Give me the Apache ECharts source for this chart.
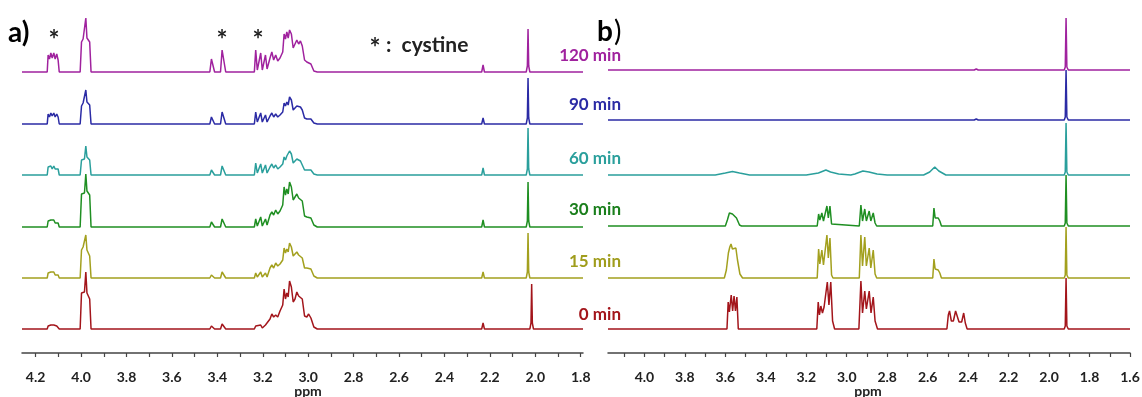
<!DOCTYPE html>
<html>
<head>
<meta charset="utf-8">
<script src="https://cdn.jsdelivr.net/npm/echarts@6/dist/echarts.min.js"></script>
<style>
    html, body { margin: 0; padding: 0; background: #fff; }
    #chart { width: 1142px; height: 397px; }
</style>
</head>
<body>
<div id="chart"></div>
<script>
// trace names, top to bottom
const timeLabels = ['120 min', '90 min', '60 min', '30 min', '15 min', '0 min'];

// axis tick labels (ppm)
const ticksA = [4.2, 4.0, 3.8, 3.6, 3.4, 3.2, 3.0, 2.8, 2.6, 2.4, 2.2, 2.0, 1.8];
const ticksB = [4.0, 3.8, 3.6, 3.4, 3.2, 3.0, 2.8, 2.6, 2.4, 2.2, 2.0, 1.8, 1.6];
const minorA = [4.2, 4.1, 4.0, 3.9, 3.8, 3.7, 3.6, 3.5, 3.4, 3.3, 3.2, 3.1, 3.0, 2.9, 2.8, 2.7, 2.6, 2.5, 2.4, 2.3, 2.2, 2.1, 2.0, 1.9, 1.8];
const minorB = [4.1, 4.0, 3.9, 3.8, 3.7, 3.6, 3.5, 3.4, 3.3, 3.2, 3.1, 3.0, 2.9, 2.8, 2.7, 2.6, 2.5, 2.4, 2.3, 2.2, 2.1, 2.0, 1.9, 1.8, 1.7, 1.6];

// panel a spectra: [ppm, intensity]
const specA120 = [
    [4.26, 0], [4.149, 0], [4.145, 17], [4.139, 13], [4.133, 19], [4.127, 14], [4.12, 19], [4.114, 13], [4.107, 18], [4.101, 12], [4.096, 0],
    [4.004, 0], [3.998, 30], [3.991, 33], [3.985, 31], [3.979, 54], [3.974, 34], [3.968, 36], [3.962, 30], [3.956, 0],
    [3.433, 0], [3.426, 13], [3.419, 11], [3.412, 0],
    [3.386, 0], [3.379, 22], [3.371, 20], [3.363, 0],
    [3.237, 0], [3.231, 22], [3.224, 2], [3.209, 19], [3.202, 2], [3.188, 17], [3.181, 3], [3.168, 14], [3.16, 20], [3.152, 12], [3.143, 17], [3.134, 11], [3.124, 14],
    [3.112, 20], [3.106, 38], [3.1, 33], [3.094, 40], [3.088, 34], [3.082, 42], [3.074, 38], [3.066, 24], [3.058, 26], [3.05, 32], [3.042, 28], [3.034, 31], [3.026, 26],
    [3.016, 12], [3.006, 10], [2.998, 11], [2.988, 8], [2.975, 1], [2.96, 0],
    [2.236, 0], [2.23, 7], [2.224, 0],
    [2.04, 0], [2.035, 6], [2.032, 43], [2.029, 6], [2.024, 0],
    [1.79, 0]
];
const specA90 = [
    [4.26, 0], [4.149, 0], [4.145, 10], [4.139, 7], [4.133, 11], [4.127, 8], [4.12, 11], [4.114, 7], [4.107, 10], [4.101, 7], [4.096, 0],
    [4.004, 0], [3.998, 18], [3.991, 21], [3.985, 20], [3.979, 34], [3.974, 22], [3.968, 24], [3.962, 19], [3.956, 0],
    [3.433, 0], [3.426, 7], [3.419, 6], [3.412, 0],
    [3.386, 0], [3.379, 12], [3.371, 11], [3.363, 0],
    [3.237, 0], [3.231, 12], [3.224, 2], [3.209, 11], [3.202, 2], [3.188, 9], [3.181, 2], [3.168, 8], [3.16, 11], [3.152, 7], [3.143, 10], [3.134, 7], [3.124, 9],
    [3.112, 12], [3.106, 21], [3.1, 18], [3.094, 22], [3.088, 19], [3.082, 27], [3.074, 24], [3.066, 14], [3.058, 15], [3.05, 18], [3.042, 16], [3.034, 17], [3.026, 14],
    [3.016, 6], [3.006, 5], [2.998, 7], [2.988, 5], [2.975, 1], [2.96, 0],
    [2.236, 0], [2.23, 6], [2.224, 0],
    [2.04, 0], [2.035, 6], [2.032, 46], [2.029, 6], [2.024, 0],
    [1.79, 0]
];
const specA60 = [
    [4.26, 0], [4.149, 0], [4.145, 8], [4.139, 6], [4.133, 9], [4.127, 6], [4.12, 9], [4.114, 6], [4.107, 8], [4.101, 6], [4.096, 0],
    [4.004, 0], [3.998, 15], [3.991, 17], [3.985, 16], [3.979, 29], [3.974, 18], [3.968, 19], [3.962, 15], [3.956, 0],
    [3.433, 0], [3.426, 5], [3.419, 4], [3.412, 0],
    [3.386, 0], [3.379, 9], [3.371, 8], [3.363, 0],
    [3.237, 0], [3.231, 12], [3.224, 2], [3.209, 11], [3.202, 2], [3.188, 10], [3.181, 2], [3.168, 8], [3.16, 11], [3.152, 7], [3.143, 10], [3.134, 6], [3.124, 8],
    [3.112, 11], [3.106, 18], [3.1, 15], [3.094, 19], [3.088, 17], [3.082, 24], [3.074, 21], [3.066, 12], [3.058, 13], [3.05, 16], [3.042, 14], [3.034, 14], [3.026, 12],
    [3.016, 5], [3.006, 5], [2.998, 7], [2.988, 5], [2.975, 1], [2.96, 0],
    [2.236, 0], [2.23, 7], [2.224, 0],
    [2.04, 0], [2.035, 6], [2.032, 47], [2.029, 6], [2.024, 0],
    [1.79, 0]
];
const specA30 = [
    [4.26, 0], [4.149, 0], [4.145, 6], [4.139, 4], [4.133, 7], [4.127, 5], [4.12, 7], [4.114, 4], [4.107, 6], [4.101, 4], [4.096, 0],
    [4.004, 0], [3.998, 33], [3.991, 35], [3.985, 34], [3.979, 53], [3.974, 36], [3.968, 37], [3.962, 32], [3.956, 0],
    [3.433, 0], [3.426, 5], [3.419, 4], [3.412, 0],
    [3.386, 0], [3.379, 8], [3.371, 7], [3.363, 0],
    [3.237, 0], [3.231, 8], [3.224, 1], [3.209, 10], [3.202, 1], [3.188, 8], [3.181, 2], [3.168, 12], [3.16, 15], [3.152, 12], [3.143, 17], [3.134, 13], [3.124, 16],
    [3.112, 22], [3.106, 40], [3.1, 32], [3.094, 38], [3.088, 33], [3.082, 45], [3.074, 40], [3.066, 27], [3.058, 28], [3.05, 33], [3.042, 29], [3.034, 30], [3.026, 26],
    [3.016, 11], [3.006, 10], [2.998, 12], [2.988, 9], [2.975, 2], [2.96, 0],
    [2.236, 0], [2.23, 7], [2.224, 0],
    [2.04, 0], [2.035, 6], [2.032, 45], [2.029, 6], [2.024, 0],
    [1.79, 0]
];
const specA15 = [
    [4.26, 0], [4.149, 0], [4.145, 5], [4.139, 3], [4.133, 6], [4.127, 4], [4.12, 6], [4.114, 3], [4.107, 5], [4.101, 3], [4.096, 0],
    [4.004, 0], [3.998, 28], [3.991, 31], [3.985, 30], [3.979, 43], [3.974, 28], [3.968, 26], [3.962, 22], [3.956, 0],
    [3.433, 0], [3.426, 3], [3.419, 3], [3.412, 0],
    [3.386, 0], [3.379, 6], [3.371, 5], [3.363, 0],
    [3.237, 0], [3.231, 5], [3.224, 1], [3.209, 6], [3.202, 1], [3.188, 5], [3.181, 1], [3.168, 10], [3.16, 13], [3.152, 10], [3.143, 15], [3.134, 12], [3.124, 14],
    [3.112, 18], [3.106, 30], [3.1, 25], [3.094, 29], [3.088, 26], [3.082, 35], [3.074, 31], [3.066, 22], [3.058, 22], [3.05, 26], [3.042, 23], [3.034, 23], [3.026, 20],
    [3.016, 10], [3.006, 10], [2.998, 12], [2.988, 9], [2.975, 2], [2.96, 0],
    [2.236, 0], [2.23, 6], [2.224, 0],
    [2.04, 0], [2.035, 6], [2.032, 45], [2.029, 6], [2.024, 0],
    [1.79, 0]
];
const specA0 = [
    [4.26, 0], [4.149, 0], [4.145, 3], [4.139, 2], [4.133, 4], [4.127, 3], [4.12, 4], [4.114, 2], [4.107, 3], [4.101, 2], [4.096, 0],
    [4.004, 0], [3.998, 36], [3.991, 38], [3.985, 37], [3.979, 57], [3.974, 36], [3.968, 35], [3.962, 30], [3.956, 0],
    [3.433, 0], [3.426, 3], [3.419, 2], [3.412, 0],
    [3.386, 0], [3.379, 5], [3.371, 4], [3.363, 0],
    [3.237, 0], [3.231, 3], [3.224, 1], [3.209, 4], [3.202, 1], [3.188, 4], [3.181, 2], [3.168, 10], [3.16, 15], [3.152, 12], [3.143, 14], [3.134, 12], [3.124, 18],
    [3.112, 24], [3.106, 40], [3.1, 30], [3.094, 36], [3.088, 32], [3.082, 48], [3.074, 42], [3.066, 27], [3.058, 30], [3.05, 37], [3.042, 33], [3.034, 35], [3.026, 30],
    [3.016, 13], [3.006, 12], [2.998, 15], [2.988, 11], [2.975, 2], [2.96, 0],
    [2.236, 0], [2.23, 6], [2.224, 0],
    [2.024, 0], [2.019, 6], [2.016, 45], [2.013, 6], [2.008, 0],
    [1.79, 0]
];

// panel b spectra: [ppm, intensity]
const specB120 = [
    [4.18, 0], [3.94, 0], [3.935, 1.5], [3.93, 0], [2.37, 0], [2.36, 1], [2.35, 0], [2.235, 0], [2.23, 1], [2.225, 0],
    [1.925, 0], [1.92, 3], [1.916, 52], [1.912, 3], [1.905, 0], [1.6, 0]
];
const specB90 = [
    [4.18, 0], [3.94, 0], [3.935, 1.5], [3.93, 0], [2.37, 0], [2.36, 1], [2.35, 0], [2.235, 0], [2.23, 1.5], [2.225, 0],
    [1.925, 0], [1.92, 3], [1.916, 50], [1.912, 3], [1.905, 0], [1.6, 0]
];
const specB60 = [
    [4.18, 0], [3.94, 0], [3.935, 2], [3.93, 0],
    [3.65, 0], [3.6, 2], [3.565, 3.5], [3.53, 2], [3.48, 0],
    [3.2, 0], [3.14, 2], [3.103, 5], [3.08, 3], [3.04, 1], [2.98, 0], [2.96, 1], [2.92, 4], [2.89, 3], [2.85, 1], [2.8, 0],
    [2.62, 0], [2.59, 3], [2.565, 8], [2.545, 4], [2.51, 0],
    [1.925, 0], [1.92, 3], [1.916, 52], [1.912, 3], [1.905, 0], [1.6, 0]
];
const specB30 = [
    [4.18, 0], [3.94, 0], [3.935, 2], [3.93, 0],
    [3.6, 0], [3.59, 6], [3.58, 13], [3.572, 15], [3.565, 12], [3.556, 14], [3.545, 8], [3.53, 1], [3.52, 0],
    [3.34, 0], [3.335, 1], [3.33, 0],
    [3.146, 0], [3.139, 12], [3.133, 6], [3.123, 13], [3.115, 5], [3.108, 6], [3.098, 20], [3.091, 8], [3.083, 20], [3.075, 2], [3.068, 0],
    [2.938, 0], [2.93, 21], [2.922, 5], [2.911, 17], [2.903, 5], [2.889, 15], [2.881, 5], [2.869, 13], [2.86, 3], [2.852, 0],
    [2.575, 0], [2.569, 18], [2.563, 8], [2.555, 7], [2.548, 8], [2.54, 5], [2.532, 0],
    [1.925, 0], [1.92, 3], [1.916, 51], [1.912, 3], [1.905, 0], [1.6, 0]
];
const specB15 = [
    [4.18, 0], [3.94, 0], [3.935, 2], [3.93, 0],
    [3.605, 0], [3.595, 8], [3.585, 25], [3.578, 31], [3.572, 34], [3.565, 29], [3.558, 31], [3.548, 30], [3.54, 18], [3.528, 4], [3.515, 0],
    [3.146, 0], [3.139, 29], [3.133, 14], [3.123, 28], [3.115, 13], [3.108, 14], [3.098, 43], [3.091, 20], [3.083, 40], [3.075, 3], [3.068, 0],
    [2.938, 0], [2.93, 43], [2.922, 12], [2.911, 41], [2.903, 12], [2.889, 30], [2.881, 10], [2.869, 28], [2.86, 4], [2.852, 0],
    [2.575, 0], [2.569, 19], [2.563, 9], [2.555, 8], [2.548, 8], [2.54, 5], [2.532, 0],
    [1.925, 0], [1.92, 3], [1.916, 51], [1.912, 3], [1.905, 0], [1.6, 0]
];
const specB0 = [
    [4.18, 0],
    [3.592, 0], [3.586, 27], [3.58, 17], [3.571, 34], [3.564, 18], [3.557, 33], [3.55, 18], [3.543, 32], [3.536, 0],
    [3.148, 0], [3.141, 27], [3.135, 14], [3.128, 23], [3.12, 16], [3.112, 22], [3.105, 20], [3.096, 47], [3.088, 24], [3.079, 47], [3.07, 8], [3.06, 0],
    [2.94, 0], [2.93, 48], [2.922, 16], [2.911, 38], [2.903, 20], [2.889, 38], [2.88, 16], [2.869, 32], [2.86, 8], [2.848, 0],
    [2.505, 0], [2.498, 14], [2.492, 18], [2.483, 8], [2.473, 8], [2.462, 18], [2.455, 17], [2.445, 7], [2.432, 7], [2.422, 16], [2.414, 6], [2.405, 0],
    [1.925, 0], [1.92, 3], [1.916, 51], [1.912, 3], [1.905, 0], [1.6, 0]
];

const specA = [specA120, specA90, specA60, specA30, specA15, specA0];
const specB = [specB120, specB90, specB60, specB30, specB15, specB0];

// layout / style
const COLORS = ['#a0229e', '#2b2ba5', '#2a9f9c', '#1f8f22', '#a3a01e', '#a3151b'];
const LABEL_COLORS = ['#a0229e', '#2b2ba5', '#2a9f9c', '#1a7f1c', '#a09d1c', '#a3151b'];
const BASE_A = [72, 124, 175, 227, 278, 329];
const BASE_B = [70, 120, 175, 226, 278, 329];
const LABEL_Y = [56, 105, 159, 210, 262, 315];
const AXIS_Y = 353;
const TRACE_H = 60;
const FONT = 'Lato, "Open Sans", sans-serif';

const panels = [
    { left: 22, width: 561, min: 1.79, max: 4.26, base: BASE_A, spec: specA, ticks: ticksA, minor: minorA, nameX: 308 },
    { left: 608, width: 522, min: 1.6, max: 4.18, base: BASE_B, spec: specB, ticks: ticksB, minor: minorB, nameX: 868 }
];

const grid = [], xAxis = [], yAxis = [], series = [];

panels.forEach(p => {
    // one grid per trace
    p.spec.forEach((data, i) => {
        const idx = grid.length;
        grid.push({ left: p.left, width: p.width, top: p.base[i] - TRACE_H, height: TRACE_H, outerBoundsMode: 'none' });
        xAxis.push({ gridIndex: idx, type: 'value', inverse: true, min: p.min, max: p.max, show: false });
        yAxis.push({ gridIndex: idx, type: 'value', min: 0, max: TRACE_H, show: false });
        series.push({
            type: 'line',
            xAxisIndex: idx,
            yAxisIndex: idx,
            data: data,
            showSymbol: false,
            clip: false,
            silent: true,
            lineStyle: { color: COLORS[i], width: 1.5 }
        });
    });
    // ppm axis grid
    const idx = grid.length;
    grid.push({ left: p.left, width: p.width, top: AXIS_Y - 20, height: 20, outerBoundsMode: 'none' });
    xAxis.push({
        gridIndex: idx, type: 'value', inverse: true, min: p.min, max: p.max,
        axisLine: { lineStyle: { color: '#444', width: 1.5 } },
        axisTick: { show: true, customValues: p.minor, length: 4, lineStyle: { color: '#444', width: 1.2 } },
        axisLabel: {
            customValues: p.ticks, margin: 17,
            fontFamily: FONT, fontWeight: 'bold', fontSize: 14, color: '#222',
            formatter: v => v.toFixed(1)
        },
        splitLine: { show: false }
    });
    yAxis.push({ gridIndex: idx, type: 'value', min: 0, max: 1, show: false });
});

const textEl = (text, x, y, size, color, align, weight) => ({
    type: 'text',
    style: {
        text, x, y, fill: color,
        font: `${weight || 'bold'} ${size}px ${FONT}`,
        textAlign: align || 'left', textVerticalAlign: 'middle'
    }
});

const graphic = [
    textEl('a)', 8, 33, 28, '#000'),
    textEl('*', 54, 41, 26, '#222', 'center'),
    textEl('*', 222, 41, 26, '#222', 'center'),
    textEl('*', 258, 41, 26, '#222', 'center'),
    textEl('*', 375, 49, 26, '#222', 'center'),
    textEl(':  cystine', 386, 45, 21, '#222'),
    textEl('b', 597, 32, 28, '#000'),
    textEl(')', 614, 32, 28, '#000', 'left', 'normal')
];
timeLabels.forEach((t, i) => {
    graphic.push(textEl(t, 621, LABEL_Y[i], 17, LABEL_COLORS[i], 'right'));
});
panels.forEach(p => {
    graphic.push(textEl('ppm', p.nameX, 391, 14, '#222', 'center'));
});

const chart = echarts.init(document.getElementById('chart'));
chart.setOption({
    animation: false,
    backgroundColor: '#fff',
    grid, xAxis, yAxis, series, graphic
});
</script>
</body>
</html>
